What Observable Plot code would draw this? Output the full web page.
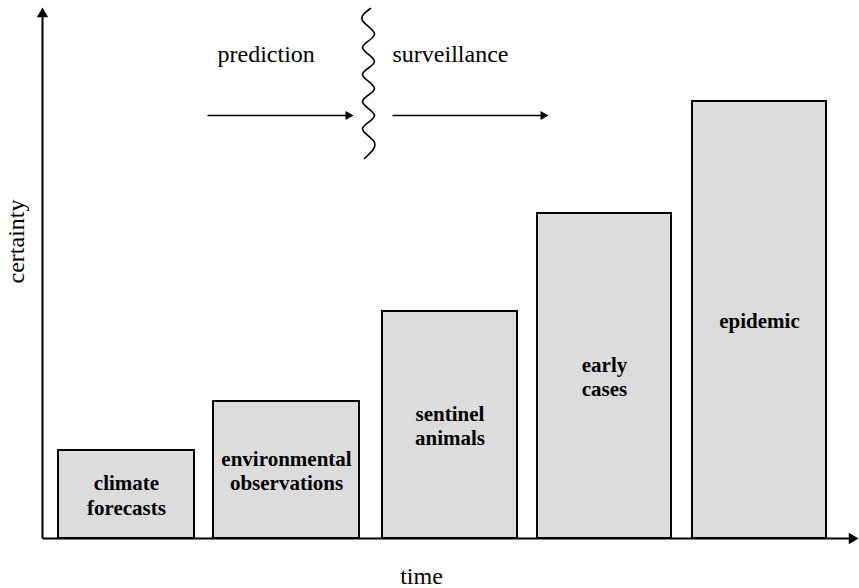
<!DOCTYPE html>
<html>
<head>
<meta charset="utf-8">
<script src="https://cdn.jsdelivr.net/npm/d3@7"></script>
<script src="https://cdn.jsdelivr.net/npm/@observablehq/plot@0.6"></script>
<style>
  html, body { margin: 0; padding: 0; background: #fff; }
  #chart { width: 859px; height: 588px; }
</style>
</head>
<body>
<div id="chart"></div>
<script>
// Bars: stages along the time axis (offsets from the origin), and their certainty
const categories = ["climate\nforecasts", "environmental\nobservations", "sentinel\nanimals", "early\ncases", "epidemic"];
const barStart = [16, 171, 340, 495, 650];
const barEnd = [152, 317, 475, 629, 784];
const certainty = [88, 137, 227, 325, 437];

// Phases shown above the bars
const phases = ["prediction", "surveillance"];
const phaseLabelX = [175, 350];
const phaseLabelY = 477;
const phaseArrowStart = [165, 350];
const phaseArrowEnd = [311, 506];
const phaseArrowY = 423;

// Wavy divider between the phases
const waveX = [328, 320, 332, 320, 332, 320, 332, 320, 332, 320, 332, 322];
const waveY = [530, 518, 504, 491, 477, 464, 450, 437, 423, 410, 396, 380];

// Axes extents
const timeMax = 816;
const certaintyMax = 531;
const axisTitles = {x: "time", y: "certainty"};

const bars = categories.map((c, i) => ({label: c, x1: barStart[i], x2: barEnd[i], h: certainty[i]}));
const wave = waveX.map((x, i) => ({x, y: waveY[i]}));
const phaseData = phases.map((p, i) => ({label: p, lx: phaseLabelX[i], x1: phaseArrowStart[i], x2: phaseArrowEnd[i]}));

const font = '"Liberation Serif", "Times New Roman", Times, serif';

const chart = Plot.plot({
  width: 859,
  height: 588,
  margin: 0,
  style: {fontFamily: font, background: "white", color: "black"},
  x: {domain: [0, timeMax], range: [42, 858], axis: null},
  y: {domain: [0, certaintyMax], range: [538, 7], axis: null},
  marks: [
    Plot.rect(bars, {x1: "x1", x2: "x2", y1: 0, y2: "h", fill: "#dcdcdc", stroke: "black", strokeWidth: 2}),
    Plot.text(bars, {x: d => (d.x1 + d.x2) / 2, y: d => d.h / 2, text: "label", fontWeight: "bold", fontSize: 21, lineHeight: 1.19, fill: "black"}),
    // axes
    Plot.link([{x1: 0, y1: 0, x2: timeMax - 5, y2: 0}, {x1: 0, y1: 0, x2: 0, y2: certaintyMax - 5}], {x1: "x1", y1: "y1", x2: "x2", y2: "y2", stroke: "black", strokeWidth: 2}),
    Plot.dot([{x: timeMax, y: 0}], {x: "x", y: "y", symbol: "triangle", r: 4.2, fill: "black", stroke: null, rotate: 90, dx: -6.5}),
    Plot.dot([{x: 0, y: certaintyMax}], {x: "x", y: "y", symbol: "triangle", r: 4.2, fill: "black", stroke: null, rotate: 0, dy: 6.5}),
    // phase arrows
    Plot.link(phaseData, {x1: "x1", x2: d => d.x2 - 4, y1: phaseArrowY, y2: phaseArrowY, stroke: "black", strokeWidth: 1.6}),
    Plot.dot(phaseData, {x: "x2", y: phaseArrowY, symbol: "triangle", r: 3.4, fill: "black", stroke: null, rotate: 90, dx: -5.3}),
    Plot.text(phaseData, {x: "lx", y: phaseLabelY, text: "label", textAnchor: "start", lineAnchor: "bottom", fontSize: 24, fill: "black"}),
    // wavy divider
    Plot.line(wave, {x: "x", y: "y", curve: "natural", stroke: "black", strokeWidth: 1.6}),
    // axis titles
    Plot.text([axisTitles.x], {x: 379, y: -45, text: d => d, textAnchor: "middle", lineAnchor: "bottom", fontSize: 24, fill: "black"}),
    Plot.text([axisTitles.y], {x: -19, y: 297, text: d => d, rotate: -90, textAnchor: "middle", lineAnchor: "bottom", fontSize: 24, fill: "black"})
  ]
});
document.getElementById("chart").appendChild(chart);
</script>
</body>
</html>
